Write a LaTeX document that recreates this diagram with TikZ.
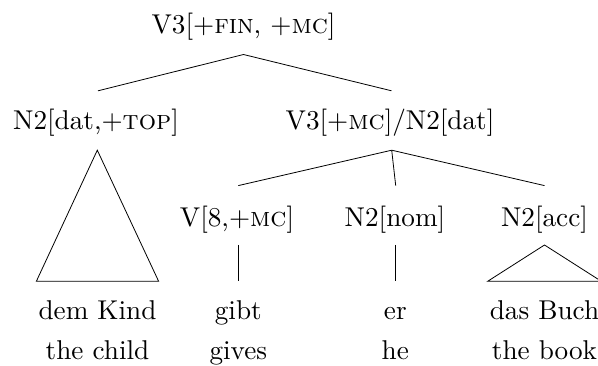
\documentclass[tikz,border=0pt]{standalone}
\newcommand{\bigtxt}[1]{\scalebox{2.72}{\fontsize{10}{12}\selectfont #1}}
\begin{document}
\begin{tikzpicture}[x=1pt,y=-1pt,
  lbl/.style={anchor=base, inner sep=0pt, text height=20pt, text depth=7pt},
  word/.style={lbl, inner xsep=2pt},
  edge/.style={line width=0.8pt}]
\useasboundingbox (0,0) rectangle (598,366);
% labels
\node[lbl] (root) at (243.5,33.3) {\bigtxt{V3[+\textsc{fin}, +\textsc{mc}]}};
\node[lbl] (n2dat) at (96,129.3) {\bigtxt{N2[dat,+\textsc{top}]}};
\node[lbl] (v3) at (390,129.3) {\bigtxt{V3[+\textsc{mc}]/N2[dat]}};
\node[lbl] (v8) at (237,226.5) {\bigtxt{V[8,+\textsc{mc}]}};
\node[lbl] (nom) at (395,226.5) {\bigtxt{N2[nom]}};
\node[lbl] (acc) at (544.5,226.5) {\bigtxt{N2[acc]}};
\node[word] (demkind) at (97.5,319.3) {\bigtxt{dem Kind}};
\node[word] (gibt) at (238.3,319.3) {\bigtxt{gibt}};
\node[word] (er) at (395.3,319.3) {\bigtxt{er}};
\node[word] (dasbuch) at (544.5,319.3) {\bigtxt{das Buch}};
\node[lbl] (g1) at (97.5,359.5) {\bigtxt{the child}};
\node[lbl] (g2) at (238.3,359.5) {\bigtxt{gives}};
\node[lbl] (g3) at (395.3,359.5) {\bigtxt{he}};
\node[lbl] (g4) at (544.5,359.5) {\bigtxt{the book}};
% branch points
\coordinate (rb) at ([yshift=-14pt]root.south);
\coordinate (vb) at ([yshift=-13.7pt,xshift=1.7pt]v3.south);
% branches
\draw[edge] ([yshift=18.3pt,xshift=2pt]n2dat.north) -- (rb) -- ([yshift=18.3pt,xshift=1.5pt]v3.north);
\draw[edge] ([yshift=20.7pt,xshift=1.3pt]v8.north) -- (vb) -- ([yshift=20.7pt]acc.north);
\draw[edge] (vb) -- ([yshift=20.7pt,xshift=0.7pt]nom.north);
\draw[edge] ([yshift=-11.3pt,xshift=1.3pt]v8.south) -- ([yshift=17.8pt]gibt.north);
\draw[edge] ([yshift=-11.3pt,xshift=0.3pt]nom.south) -- ([yshift=17.8pt]er.north);
% triangles
\draw[edge] ([yshift=-13.7pt,xshift=1.3pt]n2dat.south) -- ([yshift=17.8pt]demkind.north west) -- ([yshift=17.8pt]demkind.north east) -- cycle;
\draw[edge] ([yshift=-11.3pt]acc.south) -- ([yshift=17.8pt]dasbuch.north west) -- ([yshift=17.8pt]dasbuch.north east) -- cycle;
\end{tikzpicture}
\end{document}
